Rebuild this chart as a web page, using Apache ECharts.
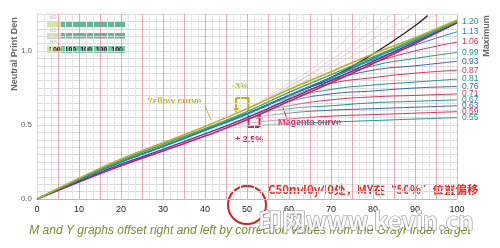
<!DOCTYPE html>
<html><head><meta charset="utf-8">
<script src="https://cdn.jsdelivr.net/npm/echarts@6/dist/echarts.min.js"></script>
<style>html,body{margin:0;padding:0;background:#fff}#c{width:500px;height:248px}</style>
</head><body><div id="c"></div>
<script>
// ---- data ----
const xs = [0,10,20,30,40,50,60,70,80,90,100];
const yellowCurve  = [0,0.14,0.27,0.38,0.49,0.61,0.74,0.86,0.98,1.09,1.21];
const greenCurve   = [0,0.135,0.26,0.37,0.475,0.59,0.72,0.84,0.96,1.08,1.20];
const cyanCurve    = [0,0.13,0.25,0.355,0.465,0.575,0.70,0.82,0.95,1.07,1.20];
const navyCurve    = [0,0.12,0.235,0.335,0.44,0.55,0.675,0.80,0.93,1.06,1.19];
const magentaCurve = [0,0.115,0.225,0.325,0.425,0.535,0.66,0.785,0.915,1.05,1.19];
const blackX = [0,10,20,30,40,50,60,70,80,90,93];
const blackCurve = [0,0.13,0.25,0.355,0.465,0.575,0.70,0.82,0.98,1.17,1.24];

// over-range faint curves
const faintX = [[50,60,70,78],[50,60,70,80,84],[55,65,75,85,89],[60,70,80,90,95]];
const faintY = [[0.61,0.78,0.98,1.24],[0.61,0.76,0.94,1.14,1.24],[0.68,0.84,1.00,1.17,1.24],[0.74,0.89,1.04,1.19,1.24]];

// thin "maximum" curves
const max113 = [0,0.13,0.25,0.36,0.47,0.58,0.70,0.82,0.94,1.04,1.13];
const max106 = [0,0.13,0.25,0.36,0.47,0.58,0.70,0.82,0.92,1.00,1.06];
const max099 = [0,0.13,0.25,0.36,0.47,0.58,0.70,0.81,0.90,0.95,0.99];
const max093 = [0,0.13,0.25,0.36,0.47,0.58,0.70,0.80,0.87,0.90,0.93];
const max087 = [0,0.13,0.25,0.36,0.47,0.58,0.69,0.78,0.82,0.85,0.87];
const max081 = [0,0.13,0.25,0.36,0.47,0.58,0.68,0.74,0.77,0.79,0.81];
const max076 = [0,0.13,0.25,0.36,0.47,0.58,0.66,0.71,0.73,0.75,0.76];
const max071 = [0,0.13,0.25,0.36,0.47,0.57,0.63,0.67,0.69,0.70,0.71];
const max067 = [0,0.13,0.25,0.36,0.47,0.56,0.61,0.63,0.65,0.66,0.67];
const max063 = [0,0.13,0.25,0.36,0.47,0.54,0.58,0.60,0.61,0.62,0.63];
const max059 = [0,0.13,0.25,0.36,0.46,0.51,0.54,0.56,0.57,0.58,0.59];
const max055 = [0,0.13,0.25,0.36,0.45,0.49,0.51,0.52,0.53,0.54,0.55];

const RED='#d8345a', TEAL='#1f9a86', BLUE='#3a64b4';
const thin = [
  [max113,'#2a8aa8'],[max106,RED],[max099,TEAL],[max093,BLUE],[max087,RED],[max081,TEAL],
  [max076,BLUE],[max071,RED],[max067,TEAL],[max063,BLUE],[max059,RED],[max055,TEAL]
];

const pairs = (x,y)=>x.map((v,i)=>[v,y[i]]);
const NARROW = '"Liberation Sans Narrow","Liberation Sans",sans-serif';

function endLbl(color){
  return {show:true, distance:5, color:color, fontSize:8.5, fontFamily:NARROW,
    formatter:p=>p.value[1].toFixed(2)};
}

const series = [];
faintY.forEach((ys,i)=>{
  series.push({type:'line', data:pairs(faintX[i],ys), symbol:'none', smooth:true, z:1,
    lineStyle:{width:1, color: i%2 ? 'rgba(238,180,195,0.6)' : 'rgba(195,195,195,0.6)'}});
});
thin.forEach(([ys,c])=>{
  series.push({type:'line', data:pairs(xs,ys), symbol:'none', smooth:true, z:2,
    lineStyle:{width:1, color:{type:'linear',x:0,y:0,x2:1,y2:0,colorStops:[
      {offset:0,color:'rgba(215,215,215,0)'},{offset:0.4,color:'rgba(205,205,205,0.35)'},
      {offset:0.68,color:c},{offset:1,color:c}]}},
    endLabel:endLbl(c)});
});
series.push({type:'line', data:pairs(blackX,blackCurve), symbol:'none', smooth:true, z:3, lineStyle:{width:1.3,color:'#222'}});
series.push({type:'line', data:pairs(xs,magentaCurve), symbol:'none', smooth:true, z:4, lineStyle:{width:1.6,color:'#c8206a'}});
series.push({type:'line', data:pairs(xs,navyCurve), symbol:'none', smooth:true, z:4, lineStyle:{width:1.4,color:'#5a3a8a'}});
series.push({type:'line', data:pairs(xs,cyanCurve), symbol:'none', smooth:true, z:4, lineStyle:{width:1.6,color:'#1a8cb4'}});
series.push({type:'line', data:pairs(xs,greenCurve), symbol:'none', smooth:true, z:4, lineStyle:{width:1.4,color:'#3aa86a'},
  endLabel:endLbl('#1f9a86')});
series.push({type:'line', data:pairs(xs,yellowCurve), symbol:'none', smooth:true, z:5, lineStyle:{width:1.6,color:'#b8b024'}});

const chart = echarts.init(document.getElementById('c'), null, {renderer:'canvas'});

const Y='#c2b51e', M='#d81b60';
const ann = [
  {type:'text', x:15, y:54, rotation:Math.PI/2, style:{text:'Neutral Print Den', fill:'#666', font:'bold 9px "Liberation Sans",sans-serif', align:'center', verticalAlign:'middle'}},
  {type:'text', x:487, y:36, rotation:Math.PI/2, style:{text:'Maximum', fill:'#666', font:'bold 9px "Liberation Sans",sans-serif', align:'center', verticalAlign:'middle'}},
  {type:'rect', shape:{x:45,y:14,width:82,height:41}, style:{fill:'rgba(255,255,255,0.85)', shadowBlur:3, shadowColor:'rgba(0,0,0,0.15)'}},
  {type:'rect', shape:{x:47,y:21.5,width:78,height:5.5}, style:{fill:'#62b896'}},
  {type:'rect', shape:{x:47,y:21.5,width:14,height:5.5}, style:{fill:'#d6e2a8'}},
  {type:'rect', shape:{x:47,y:33,width:78,height:5.5}, style:{fill:'#62b896'}},
  {type:'rect', shape:{x:47,y:33,width:14,height:5.5}, style:{fill:'#d6e2a8'}},
  {type:'rect', shape:{x:47,y:46,width:78,height:7}, style:{fill:'#7cc6a6'}},
  {type:'rect', shape:{x:47,y:46,width:14,height:7}, style:{fill:'#d6e2a8'}},
  {type:'text', x:50, y:17, style:{text:'60', fill:'#bbb', font:'6px sans-serif', verticalAlign:'middle'}},
  {type:'text', x:50, y:30, style:{text:'80', fill:'#bbb', font:'6px sans-serif', verticalAlign:'middle'}},
  {type:'text', x:50, y:42, style:{text:'90', fill:'#bbb', font:'6px sans-serif', verticalAlign:'middle'}},
  {type:'text', x:49, y:50, style:{text:'100  100  100  100  100', fill:'#223', font:'bold 7px "Liberation Sans",sans-serif', verticalAlign:'middle'}},
  {type:'text', x:147, y:102, style:{text:'Yellow curve', fill:Y, font:'bold 9px "Liberation Sans",sans-serif', verticalAlign:'middle'}},
  {type:'line', shape:{x1:205,y1:106,x2:211,y2:120}, style:{stroke:Y, lineWidth:1}},
  {type:'text', x:240, y:87, style:{text:'-3%', fill:Y, font:'bold 9px "Liberation Sans",sans-serif', align:'center', verticalAlign:'middle'}},
  {type:'polyline', shape:{points:[[236,98],[248.5,98],[248.5,110]]}, style:{stroke:Y, lineWidth:2, fill:null}},
  {type:'line', shape:{x1:236,y1:98,x2:236,y2:109}, style:{stroke:Y, lineWidth:2}},
  {type:'polygon', shape:{points:[[232.5,108],[239.5,108],[236,113]]}, style:{fill:Y}},
  {type:'text', x:278, y:123, style:{text:'Magenta curve', fill:M, font:'bold 9px "Liberation Sans",sans-serif', verticalAlign:'middle'}},
  {type:'line', shape:{x1:287,y1:119,x2:282,y2:105}, style:{stroke:M, lineWidth:1}},
  {type:'text', x:235, y:140, style:{text:'+ 2.5%', fill:M, font:'bold 9px "Liberation Sans",sans-serif', verticalAlign:'middle'}},
  {type:'polyline', shape:{points:[[248.5,115],[248.5,127],[259,127]]}, style:{stroke:M, lineWidth:2, fill:null}},
  {type:'line', shape:{x1:259.5,y1:127,x2:259.5,y2:117}, style:{stroke:M, lineWidth:2}},
  {type:'polygon', shape:{points:[[256,118.5],[263,118.5],[259.5,113.5]]}, style:{fill:M}},
  {type:'text', x:268, y:190, style:{text:'C50m40y40处，MY在“50%”位置偏移', fill:'#e2302a', font:'bold 11.5px "Noto Sans CJK SC",sans-serif', verticalAlign:'middle'}},
  {type:'circle', shape:{cx:247,cy:205,r:19}, style:{stroke:'#d42222', lineWidth:2, fill:null}},
  {type:'text', x:250, y:231, style:{text:'M and Y graphs offset right and left by correction values from the GrayFinder target', fill:'#7c8a2c', font:'italic 12px "Liberation Sans",sans-serif', align:'center', verticalAlign:'middle'}},
  {type:'text', x:258, y:221, z:100, style:{text:'印网www.kevin.cn', fill:'rgba(250,250,250,0.95)', stroke:'rgba(110,110,110,0.75)', lineWidth:1.2, font:'bold 24px "Noto Sans CJK SC","DejaVu Sans",sans-serif', verticalAlign:'middle', shadowBlur:2, shadowColor:'rgba(60,60,60,0.6)', shadowOffsetX:1, shadowOffsetY:1}}
];

chart.setOption({
  animation:false,
  grid:{left:37, right:43, top:14, bottom:49, containLabel:false},
  xAxis:{type:'value', min:0, max:100, interval:5,
    axisLine:{show:true, lineStyle:{color:'#bbb'}}, axisTick:{show:false},
    axisLabel:{color:'#222', fontSize:9, fontFamily:NARROW, margin:6,
      formatter:v=> (v%10===0 ? String(v) : '')},
    splitLine:{show:true, lineStyle:{color:'rgba(228,110,130,0.6)', width:1}},
    minorTick:{show:false, splitNumber:3},
    minorSplitLine:{show:true, lineStyle:{color:'#e6e6e6', width:1}}},
  yAxis:{type:'value', min:0, max:1.25, interval:0.05,
    axisLine:{show:true, lineStyle:{color:'#ddd'}}, axisTick:{show:false},
    axisLabel:{color:'#666', fontSize:8, fontFamily:NARROW, margin:5,
      formatter:v=>{const t=Math.round(v*100); return (t%50===0)? (t/100).toFixed(1):'';}},
    splitLine:{show:true, lineStyle:{color:'#dcdcdc', width:1}}},
  series:series,
  graphic:ann
});
</script></body></html>
